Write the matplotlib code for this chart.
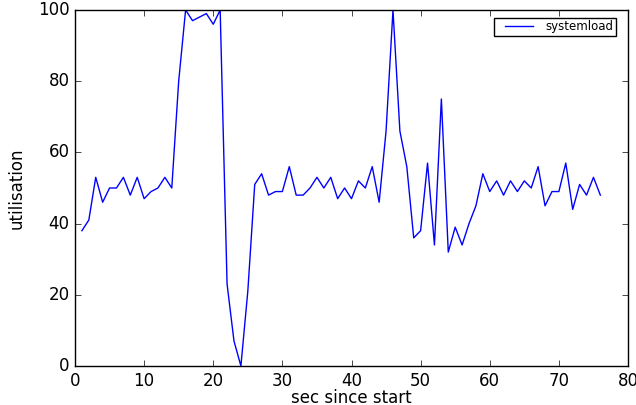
import numpy as np
import matplotlib
matplotlib.use("Agg")
import matplotlib.pyplot as plt
from matplotlib.legend_handler import HandlerLine2D

plt.style.use("classic")

# per-second load samples
secs = list(range(1, 77))
load = [38, 41, 53, 46, 50, 50, 53, 48, 53, 47,
        49, 50, 53, 50, 80, 100, 97, 98, 99, 96,
        100, 23, 7, 0, 21, 51, 54, 48, 49, 49,
        56, 48, 48, 50, 53, 50, 53, 47, 50, 47,
        52, 50, 56, 46, 66, 100, 66, 56, 36, 38,
        57, 34, 75, 32, 39, 34, 40, 45, 54, 49,
        52, 48, 52, 49, 52, 50, 56, 45, 49, 49,
        57, 44, 51, 48, 53, 48]

fig = plt.figure(figsize=(6.36, 4.05), dpi=100)
ax = fig.add_axes([75 / 636.0, 1 - 366 / 405.0, 553 / 636.0, 356 / 405.0])
line, = ax.plot(secs, load, "b-", label="systemload")
ax.set_xlim(0, 80)
ax.set_ylim(0, 100)
ax.set_xlabel("sec since start", labelpad=-0.5)
ax.set_ylabel("utilisation", labelpad=9)
ax.legend(loc="upper right", bbox_to_anchor=(616 / 636.0, 1 - 18 / 405.0),
          bbox_transform=fig.transFigure, borderaxespad=0,
          prop={"size": 8.5}, borderpad=0.2, handlelength=3.9,
          handletextpad=0.3,
          handler_map={line: HandlerLine2D(marker_pad=0.75)})

fig.savefig("out.png", dpi=100)
